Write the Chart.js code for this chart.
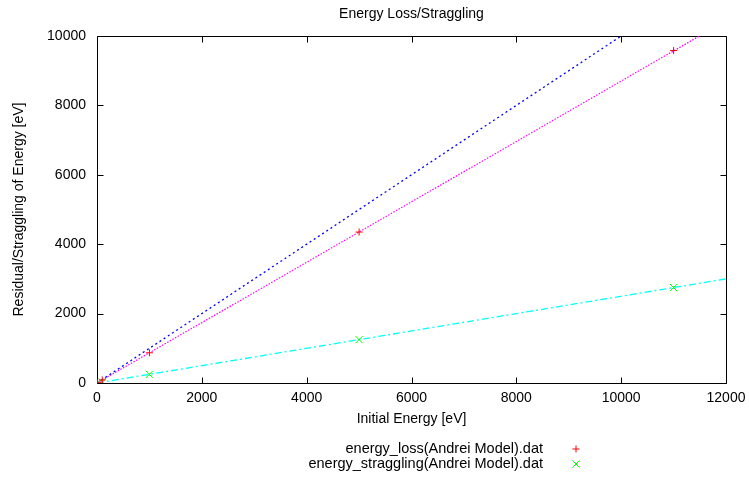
<!DOCTYPE html>
<html><head><meta charset="utf-8">
<script src="https://cdn.jsdelivr.net/npm/chart.js@4/dist/chart.umd.min.js"></script>
<style>html,body{margin:0;padding:0;background:#fff}#wrap{position:relative;width:749px;height:481px}</style>
</head><body><div id="wrap"><canvas id="c" width="749" height="481"></canvas></div>
<script>
const energies = [10, 100, 1000, 5000, 11000];
const lossValues = [9, 87, 870, 4350, 9580];
const stragglingValues = [2, 25, 250, 1250, 2750];
const fitX = [0, 12000];
const fitIdentity = [0, 12000];
const fitLoss = [0, 10440];
const fitStraggling = [0, 3000];
const xTicks = [0, 2000, 4000, 6000, 8000, 10000, 12000];
const yTicks = [0, 2000, 4000, 6000, 8000, 10000];
const legendLabels = ['energy_loss(Andrei Model).dat', 'energy_straggling(Andrei Model).dat'];
const chartTitle = 'Energy Loss/Straggling';
const xTitle = 'Initial Energy [eV]';
const yTitle = 'Residual/Straggling of Energy [eV]';

const FONT = '"Liberation Sans", Arial, Helvetica, sans-serif';
const pts = (xs, ys) => xs.map((x, i) => ({x: x, y: ys[i]}));

const decor = {
  id: 'decor',
  beforeDatasetsDraw(chart) {
    const ctx = chart.ctx, a = chart.chartArea;
    const xs = chart.scales.x, ys = chart.scales.y;
    ctx.save();
    ctx.strokeStyle = '#000';
    ctx.lineWidth = 1;
    ctx.beginPath();
    const L = Math.round(a.left) + 0.5, R = Math.round(a.right) + 0.5;
    const T = Math.round(a.top) + 0.5, B = Math.round(a.bottom) + 0.5;
    ctx.rect(L, T, R - L, B - T);
    const tl = 6;
    xTicks.forEach(v => {
      const px = Math.round(xs.getPixelForValue(v)) + 0.5;
      ctx.moveTo(px, B); ctx.lineTo(px, B - tl);
      ctx.moveTo(px, T); ctx.lineTo(px, T + tl);
    });
    yTicks.forEach(v => {
      const py = Math.round(ys.getPixelForValue(v)) + 0.5;
      ctx.moveTo(L, py); ctx.lineTo(L + tl, py);
      ctx.moveTo(R, py); ctx.lineTo(R - tl, py);
    });
    ctx.stroke();
    ctx.restore();
  },
  afterDraw(chart) {
    const ctx = chart.ctx, a = chart.chartArea;
    ctx.save();
    ctx.fillStyle = '#000';
    ctx.font = '14px ' + FONT;
    ctx.textAlign = 'center';
    ctx.textBaseline = 'middle';
    const cx = (a.left + a.right) / 2;
    ctx.fillText(chartTitle, cx, 14);
    ctx.fillText(xTitle, cx, a.bottom + 36);
    ctx.save();
    ctx.translate(19, (a.top + a.bottom) / 2);
    ctx.rotate(-Math.PI / 2);
    ctx.fillText(yTitle, 0, 0);
    ctx.restore();
    // legend
    ctx.textAlign = 'right';
    const lx = 543, mx = 576;
    const ly = [a.bottom + 66, a.bottom + 81];
    ctx.font = '14.5px ' + FONT;
    ctx.fillText(legendLabels[0], lx, ly[0]);
    ctx.fillText(legendLabels[1], lx, ly[1]);
    ctx.lineWidth = 1;
    ctx.strokeStyle = '#ff0000';
    ctx.beginPath();
    ctx.moveTo(mx - 3.5, ly[0]); ctx.lineTo(mx + 3.5, ly[0]);
    ctx.moveTo(mx, ly[0] - 3.5); ctx.lineTo(mx, ly[0] + 3.5);
    ctx.stroke();
    ctx.strokeStyle = '#00ff00';
    ctx.beginPath();
    ctx.moveTo(mx - 3.5, ly[1] - 3.5); ctx.lineTo(mx + 3.5, ly[1] + 3.5);
    ctx.moveTo(mx - 3.5, ly[1] + 3.5); ctx.lineTo(mx + 3.5, ly[1] - 3.5);
    ctx.stroke();
    ctx.restore();
  }
};

new Chart(document.getElementById('c'), {
  type: 'scatter',
  data: {
    datasets: [
      {label: legendLabels[0], data: pts(energies, lossValues), showLine: false,
       pointStyle: 'cross', pointRadius: 3.5, pointBorderWidth: 1, borderColor: '#ff0000', backgroundColor: '#ff0000'},
      {label: legendLabels[1], data: pts(energies, stragglingValues), showLine: false,
       pointStyle: 'crossRot', pointRadius: 5, pointBorderWidth: 1, borderColor: '#00ff00', backgroundColor: '#00ff00'},
      {label: 'fit identity', data: pts(fitX, fitIdentity), showLine: true, pointRadius: 0,
       borderColor: '#0000ff', borderWidth: 1.3, borderDash: [2, 3]},
      {label: 'fit loss', data: pts(fitX, fitLoss), showLine: true, pointRadius: 0,
       borderColor: '#ff00ff', borderWidth: 1.2, borderDash: [1.5, 1.5]},
      {label: 'fit straggling', data: pts(fitX, fitStraggling), showLine: true, pointRadius: 0,
       borderColor: '#00ffff', borderWidth: 1.3, borderDash: [7, 3, 2, 3]}
    ]
  },
  options: {
    responsive: false,
    devicePixelRatio: 1,
    animation: false,
    events: [],
    layout: {padding: {left: 0, right: 23, top: 36, bottom: 38}},
    plugins: {legend: {display: false}, title: {display: false}, tooltip: {enabled: false}},
    scales: {
      x: {
        type: 'linear', min: 0, max: 12000,
        afterBuildTicks: s => { s.ticks = xTicks.map(v => ({value: v})); },
        afterFit: s => { s.height = 60; s.paddingLeft = 0; s.paddingRight = 0; s.paddingTop = 0; s.paddingBottom = 0; },
        grid: {display: false, drawTicks: false},
        border: {display: false},
        ticks: {color: '#000', font: {size: 14, family: FONT}, padding: 7, maxRotation: 0, autoSkip: false,
                callback: v => String(v)}
      },
      y: {
        type: 'linear', min: 0, max: 10000,
        afterBuildTicks: s => { s.ticks = yTicks.map(v => ({value: v})); },
        afterFit: s => { s.width = 97; s.paddingLeft = 0; s.paddingRight = 0; s.paddingTop = 0; s.paddingBottom = 0; },
        grid: {display: false, drawTicks: false},
        border: {display: false},
        ticks: {color: '#000', font: {size: 14, family: FONT}, padding: 11, autoSkip: false,
                callback: v => String(v)}
      }
    }
  },
  plugins: [decor]
});
</script></body></html>
